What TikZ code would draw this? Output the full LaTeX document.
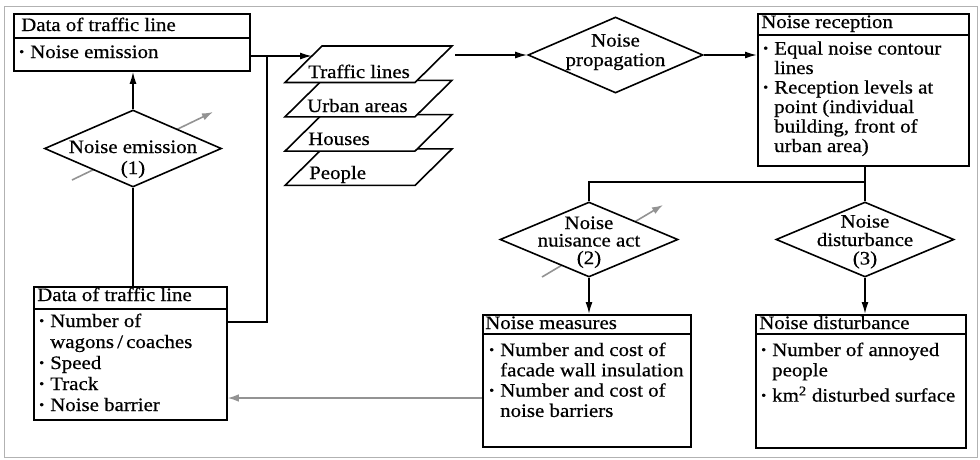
\documentclass[tikz,border=0pt]{standalone}
\usepackage{fontspec}
\setmainfont[FakeStretch=1.1,FakeBold=0.6]{Liberation Serif}
\usetikzlibrary{arrows.meta,shapes.geometric}
\newcommand{\bdot}{\raisebox{2pt}{\fontsize{13}{13}\selectfont\textbullet}}
\newcommand{\bitem}[1]{\makebox[11pt][l]{\bdot}#1}
\newcommand{\citem}[1]{\hspace*{11pt}#1}
\newcommand{\btext}[2]{\parbox[t]{205pt}{\raggedright\fontsize{19}{#1}\selectfont #2}}
\newcommand{\ctext}[2]{\parbox[t]{170pt}{\centering\fontsize{19}{#1}\selectfont #2}}
\tikzset{
  every node/.style={font=\fontsize{19}{19.5}\selectfont, inner sep=0pt},
  boxnode/.style={draw, line width=1.8pt, fill=white, rectangle, anchor=north west},
  divline/.style={line width=1.4pt},
  txt/.style={anchor=base west},
  ctxt/.style={anchor=base},
  dia/.style={draw, diamond, line width=1.6pt, fill=white},
  conn/.style={line width=1.6pt},
  arr/.style={line width=1.6pt, -{Latex[length=12pt,width=7pt]}},
  grayarr/.style={line width=1.6pt, gray!85, -{Latex[length=11pt,width=7.5pt]}},
  layer/.style={draw, line width=1.6pt, fill=white, line join=miter},
}
\begin{document}
\begin{tikzpicture}[x=1pt,y=-1pt]
\useasboundingbox (0,0) rectangle (980,459);
\draw[gray!60, line width=0.8pt] (4,6) rectangle (977,457);

% ---- Box 1: Data of traffic line (top)
\node[boxnode, minimum width=236pt, minimum height=57pt] (d1) at (13,13) {};
\draw[divline] (d1.west |- 0,38) -- (d1.east |- 0,38);
\node[txt] (d1h) at (21,31) {Data of traffic line};
\node[txt] (d1b) at (19,58) {\btext{19.5}{\bitem{Noise emission}}};

% ---- Box 2: Data of traffic line (bottom)
\node[boxnode, minimum width=193pt, minimum height=133pt] (d2) at (33,286) {};
\draw[divline] (d2.west |- 0,309) -- (d2.east |- 0,309);
\node[txt] (d2h) at (37,301) {Data of traffic line};
\node[txt] (d2b) at (39,327) {\btext{21}{\bitem{Number of}\\ \citem{wagons\,/\,coaches}\\ \bitem{Speed}\\ \bitem{Track}\\ \bitem{Noise barrier}}};

% ---- Noise reception
\node[boxnode, minimum width=211pt, minimum height=152pt] (rec) at (757,13) {};
\draw[divline] (rec.west |- 0,35) -- (rec.east |- 0,35);
\node[txt] (rech) at (761,28) {Noise reception};
\node[txt] (recb) at (763,54.5) {\btext{19.5}{\bitem{Equal noise contour}\\ \citem{lines}\\ \bitem{Reception levels at}\\ \citem{point (individual}\\ \citem{building, front of}\\ \citem{urban area)}}};

% ---- Noise measures
\node[boxnode, minimum width=208pt, minimum height=132pt] (meas) at (482,314) {};
\draw[divline] (meas.west |- 0,334) -- (meas.east |- 0,334);
\node[txt] (meash) at (485,329) {Noise measures};
\node[txt] (measb) at (489,356) {\btext{20.3}{\bitem{Number and cost of}\\ \citem{facade wall insulation}\\ \bitem{Number and cost of}\\ \citem{noise barriers}}};

% ---- Noise disturbance box
\node[boxnode, minimum width=210pt, minimum height=133pt] (dist) at (755,314) {};
\draw[divline] (dist.west |- 0,334) -- (dist.east |- 0,334);
\node[txt] (disth) at (759,329) {Noise disturbance};
\node[txt] (distb) at (761,356) {\btext{20.3}{\bitem{Number of annoyed}\\ \citem{people}\\[5pt] \bitem{km\textsuperscript{2} disturbed surface}}};

% ---- Layers
\foreach \i in {3,2,1,0}{
  \pgfmathsetmacro{\yt}{46+34.3*\i}
  \pgfmathsetmacro{\yb}{\yt+36.5}
  \draw[layer] (322,\yt) -- (452,\yt) -- (415,\yb) -- (285,\yb) -- cycle;
}
\node[txt] (l1) at (308,78) {Traffic lines};
\node[txt] (l2) at (307,112) {Urban areas};
\node[txt] (l3) at (308,145) {Houses};
\node[txt] (l4) at (309,179) {People};

% gray arrows through diamonds (hidden by diamond fill)
\coordinate (g1s) at (72,180);
\coordinate (g1e) at (213,112);
\coordinate (g2s) at (542,277);
\coordinate (g2e) at (663,205);
\draw[grayarr] (g1s) -- (g1e);
\draw[grayarr] (g2s) -- (g2e);

% ---- Diamonds
\node[dia, minimum width=177pt, minimum height=77pt] (dem) at (133,148.5) {};
\node[dia, minimum width=175pt, minimum height=76pt] (dprop) at (615.5,55) {};
\node[dia, minimum width=178pt, minimum height=75pt] (dnui) at (589,239.5) {};
\node[dia, minimum width=178pt, minimum height=75pt] (ddis) at (865,239.5) {};

\node[ctxt] (tem) at (133,153) {\ctext{21}{Noise emission\\(1)}};
\node[ctxt] (tprop) at (615.5,46.5) {\ctext{19.5}{Noise\\propagation}};
\node[ctxt] (tnui) at (589,229) {\ctext{17.5}{Noise\\nuisance act\\(2)}};
\node[ctxt] (tdis) at (865,227.5) {\ctext{18.5}{Noise\\disturbance\\(3)}};

% ---- Connectors
\draw[arr] (dem.north) -- (dem.north |- d1.south);
\draw[conn] (dem.south) -- (dem.south |- d2.north);
\coordinate (j1) at (267,56);
\coordinate (j2) at (267,322);
\coordinate (p1in) at (312,56);
\coordinate (p1out) at (455,55);
\draw[conn] (d1.east |- j1) -- (j1) -- (j2) -- (d2.east |- j2);
\draw[arr] (j1) -- (p1in);
\draw[arr] (p1out) -- (dprop.west);
\draw[arr] (dprop.east) -- (rec.west |- dprop.east);
\coordinate (k) at (865,182);
\draw[conn] (rec.south -| k) -- (k) -- (k -| dnui.north) -- (dnui.north);
\draw[conn] (k) -- (ddis.north);
\draw[arr] (dnui.south) -- (dnui.south |- meas.north);
\draw[arr] (ddis.south) -- (ddis.south |- dist.north);
\coordinate (gy) at (0,398);
\draw[grayarr, line width=1.2pt] (meas.west |- gy) -- (d2.east |- gy);
\end{tikzpicture}
\end{document}
